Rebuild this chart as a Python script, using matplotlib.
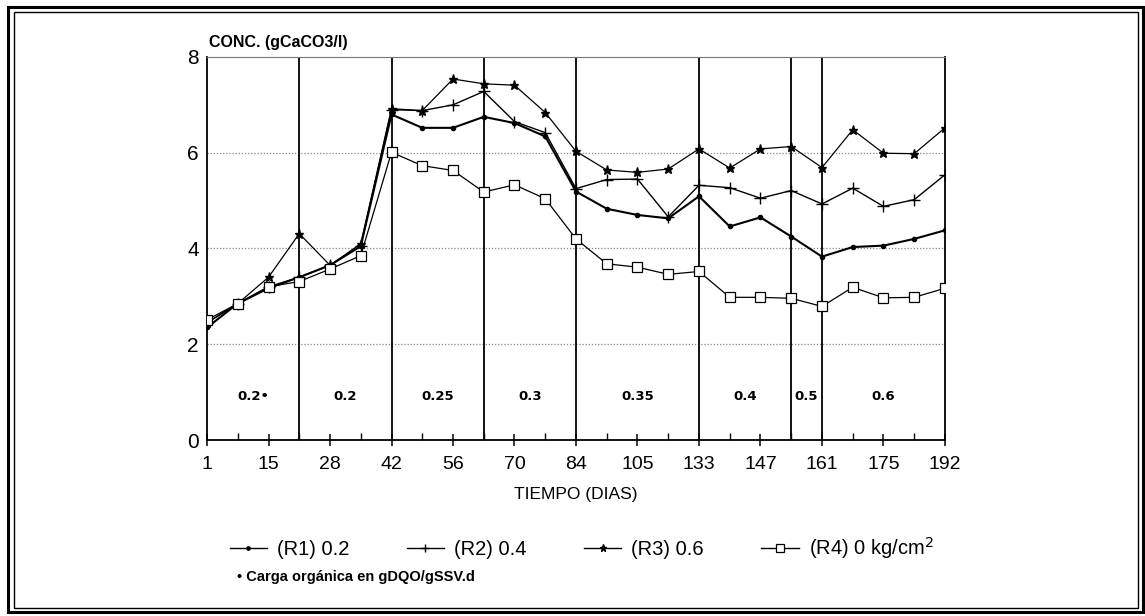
import matplotlib.pyplot as plt
from matplotlib.patches import Rectangle
import numpy as np

# days of sampling (categorical, evenly spaced on the chart)
days = [1, 8, 15, 21, 28, 35, 42, 49, 56, 63, 70, 77, 84, 94, 105, 119,
        133, 140, 147, 154, 161, 168, 175, 183, 192]
tick_days = [1, 15, 28, 42, 56, 70, 84, 105, 133, 147, 161, 175, 192]

r1 = [2.35, 2.85, 3.17, 3.40, 3.65, 4.05, 6.80, 6.52, 6.52, 6.75, 6.62, 6.34, 5.19,
      4.83, 4.70, 4.63, 5.09, 4.46, 4.65, 4.25, 3.83, 4.03, 4.06, 4.20, 4.38]
r2 = [2.45, 2.85, 3.20, 3.40, 3.65, 4.05, 6.90, 6.88, 7.00, 7.28, 6.65, 6.42, 5.25,
      5.44, 5.45, 4.66, 5.32, 5.27, 5.05, 5.21, 4.93, 5.26, 4.88, 5.02, 5.54]
r3 = [2.45, 2.85, 3.40, 4.31, 3.65, 4.10, 6.92, 6.88, 7.54, 7.44, 7.41, 6.84, 6.03,
      5.64, 5.59, 5.66, 6.08, 5.68, 6.08, 6.13, 5.69, 6.48, 5.99, 5.98, 6.52]
r4 = [2.51, 2.85, 3.20, 3.31, 3.57, 3.85, 6.01, 5.73, 5.63, 5.18, 5.33, 5.04, 4.20,
      3.68, 3.61, 3.46, 3.52, 2.98, 2.98, 2.96, 2.79, 3.19, 2.97, 2.98, 3.17]

# organic load periods: boundary days and labels
bound_days = [21, 42, 63, 84, 133, 154, 161]
period_labels = ['0.2\u2022', '0.2', '0.25', '0.3', '0.35', '0.4', '0.5', '0.6']

font = ['Liberation Sans', 'DejaVu Sans']

x = np.arange(len(days))
fig = plt.figure(figsize=(11.45, 6.16), dpi=100)
ax = fig.add_axes([0.1808, 0.2857, 0.6445, 0.6218])

for y in [2, 4, 6]:
    ax.axhline(y, color='#888888', lw=0.9, ls=(0, (1, 1.5)), zorder=1)

bidx = [days.index(d) for d in bound_days]
for b in bidx:
    ax.axvline(b, color='black', lw=1.3, zorder=2)

edges = [0] + bidx + [len(days) - 1]
for i, lab in enumerate(period_labels):
    ax.text((edges[i] + edges[i + 1]) / 2, 0.9, lab, ha='center', va='center',
            fontsize=9.5, fontweight='bold', family='DejaVu Sans')

ax.plot(x, r1, color='black', lw=1.5, marker='o', ms=3, label='(R1) 0.2', zorder=4)
ax.plot(x, r2, color='black', lw=1.0, marker='+', ms=8, mew=1.0, label='(R2) 0.4', zorder=4)
ax.plot(x, r3, color='black', lw=0.9, marker='*', ms=6.5, label='(R3) 0.6', zorder=4)
ax.plot(x, r4, color='black', lw=0.9, marker='s', ms=7, mfc='white', mew=0.9,
        label='(R4) 0 kg/cm$^2$', zorder=4)

ax.set_xlim(0, len(days) - 1)
ax.set_ylim(0, 8)
major = [days.index(d) for d in tick_days]
ax.set_xticks(major)
ax.set_xticklabels([str(d) for d in tick_days], family=font, fontsize=14)
ax.set_xticks([i for i in x if i not in major], minor=True)
ax.tick_params(axis='x', which='major', direction='inout', length=9, width=1.1, pad=7)
ax.tick_params(axis='x', which='minor', direction='in', length=5, width=1)
ax.set_yticks([0, 2, 4, 6, 8])
ax.set_yticklabels(['0', '2', '4', '6', '8'], family=font, fontsize=15)
ax.tick_params(axis='y', length=0, pad=6)

for s in ['left', 'bottom', 'right']:
    ax.spines[s].set_linewidth(1.3)
ax.spines['top'].set_color('#777777')
ax.spines['top'].set_linewidth(0.8)

ax.set_xlabel('TIEMPO (DIAS)', family=font, fontsize=12.5, labelpad=10)
fig.text(209 / 1145, 1 - 43 / 616, 'CONC. (gCaCO3/l)', fontsize=11.5,
         fontweight='bold', family=font, ha='left', va='center')

leg = fig.legend(loc='center', bbox_to_anchor=(0.508, 0.110), ncol=4, frameon=False,
                 prop={'family': font, 'size': 14.5}, handlelength=1.85,
                 columnspacing=2.85, handletextpad=0.5, markerscale=0.8)
for h in leg.get_lines():
    h.set_linewidth(1.0)

fig.text(237 / 1145, 1 - 577 / 616, '\u2022 Carga orgánica en gDQO/gSSV.d',
         fontsize=10.5, fontweight='bold', family=font, ha='left', va='center')

# double frame around the figure
W, H = 1145, 616
fig.add_artist(Rectangle((8 / W, 4 / H), 1135 / W, 605 / H, transform=fig.transFigure,
                         fill=False, lw=2.2, color='black'))
fig.add_artist(Rectangle((14 / W, 8 / H), 1124 / W, 596 / H, transform=fig.transFigure,
                         fill=False, lw=1.0, color='black'))

fig.savefig('out.png', dpi=100)
